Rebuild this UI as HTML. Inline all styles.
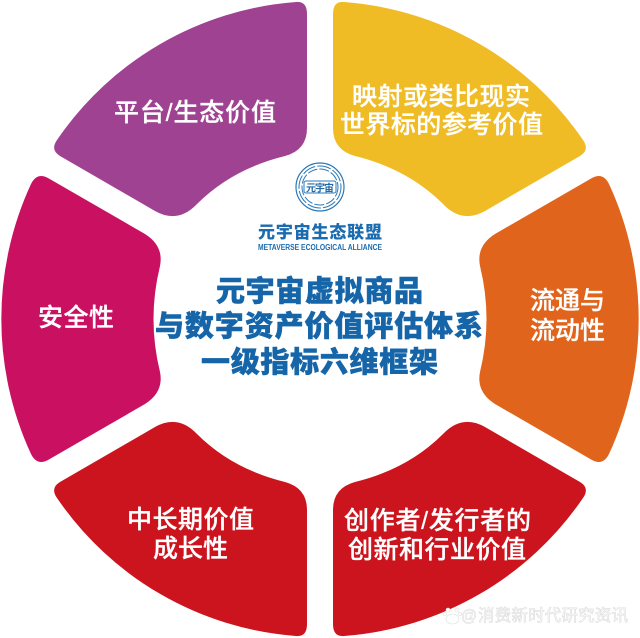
<!DOCTYPE html>
<html><head><meta charset="utf-8">
<style>
html,body{margin:0;padding:0;background:#fff;width:640px;height:638px;overflow:hidden}
svg{display:block}
text{font-family:"Liberation Sans","Noto Sans CJK SC",sans-serif}
.w{fill:#fff;font-size:25px;font-weight:500;stroke:#fff;stroke-width:.3}
.t{fill:#1565a8;font-size:29px;font-weight:900;stroke:#1565a8;stroke-width:.5}
</style></head><body>
<svg width="640" height="638" viewBox="0 0 640 638" xmlns="http://www.w3.org/2000/svg">
<rect width="640" height="638" fill="#fff"/>
<defs>
<path id="p" d="M296 2Q307 1 307 14L307 128Q307 150 285 156Q232 169 197 204Q178 224 155 211L60 156Q50 150 57 140A318 318 0 0 1 296 2Z"/>
<path id="m" d="M31 184Q37 172 48 178L145 234Q164 246 160 266Q147 319 160 372Q164 392 145 404L48 460Q37 466 31 454A322 322 0 0 1 31 184Z"/>
</defs>
<use href="#p" fill="#a04292"/>
<use href="#p" fill="#f0bc26" transform="translate(640 0) scale(-1 1)"/>
<use href="#p" fill="#cc141e" transform="translate(0 638) scale(1 -1)"/>
<use href="#p" fill="#cc141e" transform="translate(640 638) scale(-1 -1)"/>
<use href="#m" fill="#ca1161"/>
<use href="#m" fill="#e0641c" transform="translate(640 0) scale(-1 1)"/>

<text class="w" x="114" y="121" textLength="162">平台/生态价值</text>
<text class="w" x="352" y="105" textLength="178">映射或类比现实</text>
<text class="w" x="340" y="133" textLength="203">世界标的参考价值</text>
<text class="w" x="530" y="309" textLength="75">流通与</text>
<text class="w" x="530" y="339" textLength="75">流动性</text>
<text class="w" x="38" y="326" textLength="76">安全性</text>
<text class="w" x="127" y="528" textLength="127">中长期价值</text>
<text class="w" x="153" y="557" textLength="75">成长性</text>
<text class="w" x="344" y="529" textLength="187">创作者/发行者的</text>
<text class="w" x="348" y="558" textLength="178">创新和行业价值</text>

<text class="t" x="216" y="301" textLength="207">元宇宙虚拟商品</text>
<text class="t" x="155" y="336" textLength="328">与数字资产价值评估体系</text>
<text class="t" x="201" y="372" textLength="237">一级指标六维框架</text>

<g fill="none" stroke="#2a78b8">
<circle cx="320" cy="187" r="24" stroke-width="1.2"/>
<circle cx="320" cy="187" r="21" stroke-width="1" stroke-dasharray="14 2"/>
<circle cx="320" cy="187" r="18" stroke-width="1" stroke-dasharray="10 2"/>
<rect x="304" y="181" width="32" height="12" rx="2" fill="#fff" stroke-width="1"/>
</g>
<text x="306" y="191.5" font-size="10" font-weight="700" fill="#2268a8" textLength="28">元宇宙</text>
<text x="258" y="238" font-size="17" font-weight="900" fill="#1a6bb0" textLength="124">元宇宙生态联盟</text>
<text x="258" y="250" font-size="8" font-weight="700" fill="#1a6bb0" textLength="124" lengthAdjust="spacingAndGlyphs">METAVERSE ECOLOGICAL ALLIANCE</text>

<g fill="#fff" stroke="#dcdcdc" stroke-width=".6">
<ellipse cx="452.5" cy="619" rx="6.5" ry="5"/>
<circle cx="448" cy="610" r="2"/><circle cx="457" cy="610" r="2"/><circle cx="445" cy="614" r="1.6"/><circle cx="460" cy="614" r="1.6"/>
<text x="461" y="621" font-size="17" textLength="16" lengthAdjust="spacingAndGlyphs">@</text>
<text x="478" y="621" font-size="16.5" textLength="150">消费新时代研究资讯</text>
</g>
</svg>
</body></html>
